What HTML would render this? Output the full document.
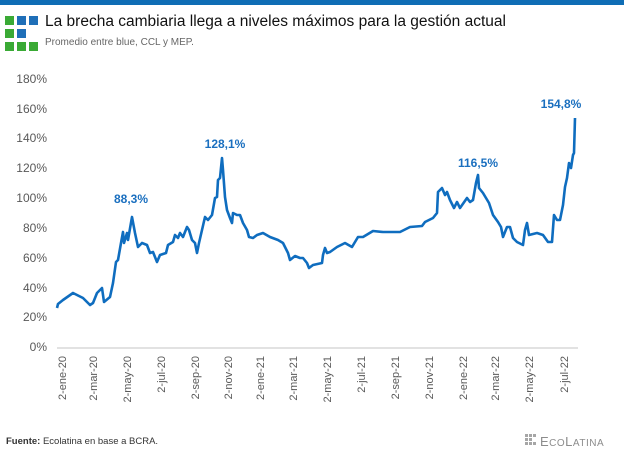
<!DOCTYPE html>
<html><head><meta charset="utf-8"><style>
body{margin:0;width:624px;height:455px;background:#fff;font-family:"Liberation Sans",sans-serif;position:relative;overflow:hidden}
.t{position:absolute;white-space:nowrap}
</style></head><body>
<div style="position:absolute;left:0;top:0;width:624px;height:5px;background:#0f6db5"></div>
<svg style="position:absolute;left:0;top:0" width="624" height="455">
<g>
<rect x="5" y="16" width="9" height="9" fill="#3aaa35"/><rect x="17" y="16" width="9" height="9" fill="#1f6fb8"/><rect x="29" y="16" width="9" height="9" fill="#1f6fb8"/>
<rect x="5" y="29" width="9" height="9" fill="#3aaa35"/><rect x="17" y="29" width="9" height="9" fill="#1f6fb8"/>
<rect x="5" y="42" width="9" height="9" fill="#3aaa35"/><rect x="17" y="42" width="9" height="9" fill="#3aaa35"/><rect x="29" y="42" width="9" height="9" fill="#3aaa35"/>
</g>
<line x1="57" y1="348" x2="578" y2="348" stroke="#d9d9d9" stroke-width="1.5"/>
<g font-size="12" fill="#595959" text-anchor="end">
<text x="47" y="83">180%</text><text x="47" y="113">160%</text><text x="47" y="142">140%</text><text x="47" y="172">120%</text><text x="47" y="202">100%</text><text x="47" y="232">80%</text><text x="47" y="262">60%</text><text x="47" y="292">40%</text><text x="47" y="321">20%</text><text x="47" y="351">0%</text>
</g>
<g font-size="11" fill="#595959" text-anchor="end">
<text transform="translate(66,356) rotate(-90)">2-ene-20</text>
<text transform="translate(97,356) rotate(-90)">2-mar-20</text>
<text transform="translate(131,356) rotate(-90)">2-may-20</text>
<text transform="translate(165,356) rotate(-90)">2-jul-20</text>
<text transform="translate(199,356) rotate(-90)">2-sep-20</text>
<text transform="translate(232,356) rotate(-90)">2-nov-20</text>
<text transform="translate(264,356) rotate(-90)">2-ene-21</text>
<text transform="translate(297,356) rotate(-90)">2-mar-21</text>
<text transform="translate(331,356) rotate(-90)">2-may-21</text>
<text transform="translate(365,356) rotate(-90)">2-jul-21</text>
<text transform="translate(399,356) rotate(-90)">2-sep-21</text>
<text transform="translate(433,356) rotate(-90)">2-nov-21</text>
<text transform="translate(467,356) rotate(-90)">2-ene-22</text>
<text transform="translate(499,356) rotate(-90)">2-mar-22</text>
<text transform="translate(533,356) rotate(-90)">2-may-22</text>
<text transform="translate(568,356) rotate(-90)">2-jul-22</text>
</g>
<polyline fill="none" stroke="#0f6dbf" stroke-width="2.6" stroke-linejoin="round" points="57,308 58,304 63,300 73,293 83,298 90,305 93,303 97,293 102,288 104,302 110,297 113,283 116,262 118,260 121,243 123,232 124,243 127,233 128,240 132,217 135,233 138,247 142,243 147,245 150,253 153,252 157,262 160,255 166,253 168,245 173,242 175,235 178,238 180,233 183,237 187,227 189,230 192,240 195,243 197,253 199,243 202,230 205,217 208,220 212,215 215,198 217,197 218,180 220,178 222,158 223,170 225,197 227,210 230,218 232,223 233,213 237,215 240,215 243,223 247,230 249,237 253,238 257,235 263,233 270,237 278,240 283,243 288,253 290,260 295,256 300,258 303,258 307,263 309,268 313,265 322,263 323,255 325,248 327,253 330,252 337,247 345,243 352,247 358,237 363,237 373,231 383,232 400,232 410,227 422,226 425,222 433,218 437,213 438,192 442,188 445,195 447,192 450,200 454,208 457,202 460,208 467,198 470,202 473,200 476,183 478,175 479,188 483,193 489,203 493,215 498,222 501,227 503,237 507,227 510,227 513,238 517,242 523,245 525,230 527,223 529,235 537,233 543,235 548,242 552,242 554,215 557,220 560,220 563,205 565,187 567,178 569,163 571,168 573,155 574,153 575,118"/>
<g font-size="12" font-weight="bold" fill="#1a6fbf" text-anchor="middle">
<text x="131" y="203">88,3%</text><text x="225" y="148">128,1%</text><text x="478" y="167">116,5%</text><text x="561" y="108">154,8%</text>
</g>
<g fill="#a6a6a6"><rect x="525" y="434" width="3" height="3"/><rect x="529" y="434" width="3" height="3"/><rect x="533" y="434" width="3" height="3"/><rect x="525" y="438" width="3" height="3"/><rect x="529" y="438" width="3" height="3"/><rect x="525" y="442" width="3" height="3"/><rect x="529" y="442" width="3" height="3"/><rect x="533" y="442" width="3" height="3"/></g>
<text x="540" y="446" font-size="13" fill="#8c8c8c" letter-spacing="0.5">E<tspan font-size="10">CO</tspan>L<tspan font-size="10">ATINA</tspan></text>
</svg>
<div class="t" style="left:45px;top:13px;font-size:15.5px;color:#111">La brecha cambiaria llega a niveles máximos para la gestión actual</div>
<div class="t" style="left:45px;top:37px;font-size:10px;color:#666">Promedio entre blue, CCL y MEP.</div>
<div class="t" style="left:6px;top:436px;font-size:9.5px;color:#333"><b>Fuente:</b> Ecolatina en base a BCRA.</div>
</body></html>
